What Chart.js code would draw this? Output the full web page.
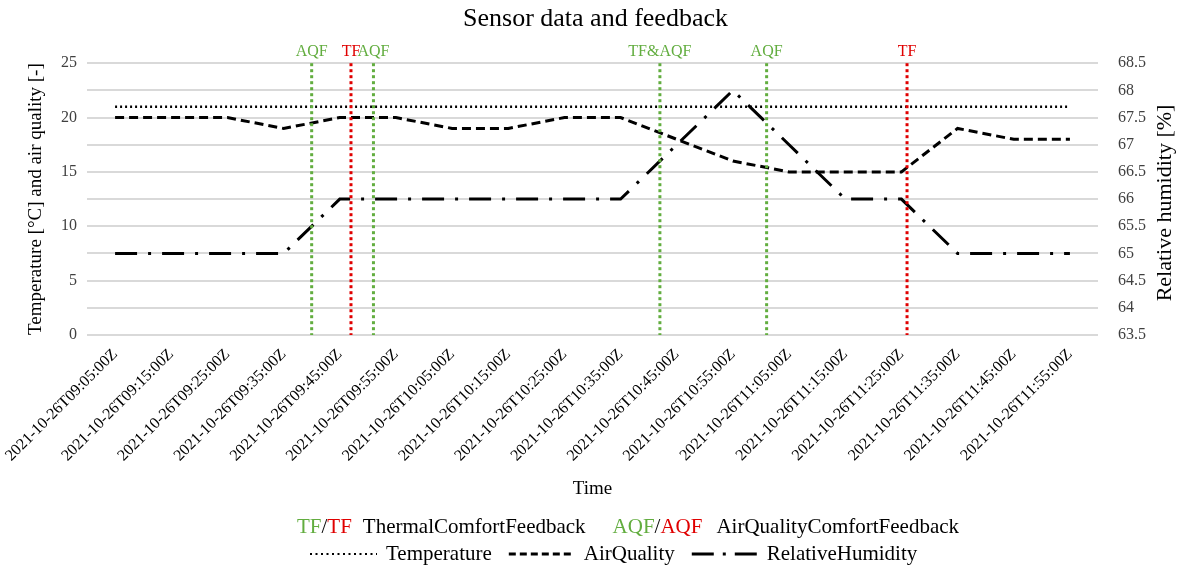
<!DOCTYPE html>
<html lang="en">
<head>
<meta charset="utf-8">
<title>Sensor data and feedback</title>
<script src="https://cdn.jsdelivr.net/npm/chart.js@4.4.1/dist/chart.umd.min.js"></script>
<style>
  html, body { margin: 0; padding: 0; background: #fff; }
  #contenedor { width: 1191px; height: 569px; position: relative; }
</style>
</head>
<body>
<div id="contenedor"><canvas id="grafico"></canvas></div>
<script>
const etiquetas = [
  '2021-10-26T09:05:00Z', '2021-10-26T09:15:00Z', '2021-10-26T09:25:00Z',
  '2021-10-26T09:35:00Z', '2021-10-26T09:45:00Z', '2021-10-26T09:55:00Z',
  '2021-10-26T10:05:00Z', '2021-10-26T10:15:00Z', '2021-10-26T10:25:00Z',
  '2021-10-26T10:35:00Z', '2021-10-26T10:45:00Z', '2021-10-26T10:55:00Z',
  '2021-10-26T11:05:00Z', '2021-10-26T11:15:00Z', '2021-10-26T11:25:00Z',
  '2021-10-26T11:35:00Z', '2021-10-26T11:45:00Z', '2021-10-26T11:55:00Z'
];
const temperatura = [21, 21, 21, 21, 21, 21, 21, 21, 21, 21, 21, 21, 21, 21, 21, 21, 21, 21];
const calidadAire = [20, 20, 20, 19, 20, 20, 19, 19, 20, 20, 18, 16, 15, 15, 15, 19, 18, 18];
const humedad = [65, 65, 65, 65, 66, 66, 66, 66, 66, 66, 67, 68, 67, 66, 66, 65, 65, 65];

// momentos en que llegó feedback de los usuarios
const feedbackHoras = ['09:40', '09:47', '09:51', '10:42', '11:01', '11:26'];
const feedbackTextos = ['AQF', 'TF', 'AQF', 'TF&AQF', 'AQF', 'TF'];
const feedbackSentido = ['positivo', 'negativo', 'positivo', 'positivo', 'positivo', 'negativo'];

const VERDE = '#62ad3f';
const ROJO = '#e00000';
const SERIF = "'Liberation Serif', 'Times New Roman', serif";

// convierte "hh:mm" a posición fraccionaria sobre el eje de categorías
const horaAIndice = (hora) => {
  const [h, m] = hora.split(':').map(Number);
  const inicio = 9 * 60 + 5;
  return (h * 60 + m - inicio) / 10;
};

const lineasFeedback = {
  id: 'lineasFeedback',
  afterDatasetsDraw(chart) {
    const { ctx, chartArea, scales } = chart;
    ctx.save();
    feedbackHoras.forEach((hora, i) => {
      const x = scales.x.getPixelForValue(horaAIndice(hora));
      const color = feedbackSentido[i] === 'positivo' ? VERDE : ROJO;
      ctx.strokeStyle = color;
      ctx.lineWidth = 3;
      ctx.setLineDash([3, 3]);
      ctx.beginPath();
      ctx.moveTo(x, chartArea.top);
      ctx.lineTo(x, chartArea.bottom);
      ctx.stroke();
      ctx.setLineDash([]);
      ctx.fillStyle = color;
      ctx.font = `16px ${SERIF}`;
      ctx.textAlign = 'center';
      ctx.textBaseline = 'alphabetic';
      ctx.fillText(feedbackTextos[i], x, chartArea.top - 7);
    });
    ctx.restore();
  }
};

// título del eje derecho, leído de abajo hacia arriba como en Excel
const tituloDerecho = {
  id: 'tituloDerecho',
  afterDraw(chart) {
    const { ctx } = chart;
    ctx.save();
    ctx.translate(1165, 203);
    ctx.rotate(-Math.PI / 2);
    ctx.font = `22px ${SERIF}`;
    ctx.fillStyle = '#000';
    ctx.textAlign = 'center';
    ctx.textBaseline = 'middle';
    ctx.fillText('Relative humidity [%]', 0, 0);
    ctx.restore();
  }
};

const leyenda = {
  id: 'leyenda',
  afterDraw(chart) {
    const { ctx } = chart;
    ctx.save();
    ctx.font = `21px ${SERIF}`;
    ctx.textBaseline = 'middle';
    ctx.textAlign = 'left';

    const fila1 = [
      { t: 'TF', c: VERDE }, { t: '/', c: '#000' }, { t: 'TF', c: ROJO }, { g: 11 },
      { t: 'ThermalComfortFeedback', c: '#000' }, { g: 27 },
      { t: 'AQF', c: VERDE }, { t: '/', c: '#000' }, { t: 'AQF', c: ROJO }, { g: 14 },
      { t: 'AirQualityComfortFeedback', c: '#000' }
    ];
    const fila2 = [
      { l: 67, dash: [2, 3.5], w: 2 }, { g: 9 }, { t: 'Temperature', c: '#000' }, { g: 17 },
      { l: 63, dash: [7, 4], w: 3 }, { g: 12 }, { t: 'AirQuality', c: '#000' }, { g: 17 },
      { l: 65, dash: [22, 9, 3, 9, 22], w: 3 }, { g: 10 }, { t: 'RelativeHumidity', c: '#000' }
    ];

    const dibujarFila = (fila, xInicio, y) => {
      let x = xInicio;
      fila.forEach(it => {
        if (it.t) {
          ctx.fillStyle = it.c;
          ctx.fillText(it.t, x, y);
          x += ctx.measureText(it.t).width;
        } else if (it.l) {
          ctx.strokeStyle = '#000';
          ctx.lineWidth = it.w;
          ctx.setLineDash(it.dash);
          ctx.beginPath();
          ctx.moveTo(x, y);
          ctx.lineTo(x + it.l, y);
          ctx.stroke();
          ctx.setLineDash([]);
          x += it.l;
        } else {
          x += it.g;
        }
      });
    };
    dibujarFila(fila1, 297, 527);
    dibujarFila(fila2, 310, 554);
    ctx.restore();
  }
};

const ctx = document.getElementById('grafico').getContext('2d');

const data = {
  labels: etiquetas,
  datasets: [
    {
      label: 'Temperature',
      data: temperatura,
      yAxisID: 'y',
      borderColor: '#000',
      borderWidth: 2.5,
      borderDash: [2, 3],
      pointRadius: 0,
      fill: false
    },
    {
      label: 'AirQuality',
      data: calidadAire,
      yAxisID: 'y',
      borderColor: '#000',
      borderWidth: 3,
      borderDash: [9, 5],
      pointRadius: 0,
      fill: false
    },
    {
      label: 'RelativeHumidity',
      data: humedad,
      yAxisID: 'y1',
      borderColor: '#000',
      borderWidth: 3,
      borderDash: [22, 11, 3, 11],
      pointRadius: 0,
      fill: false
    }
  ]
};

const config = {
  type: 'line',
  data,
  options: {
    responsive: true,
    maintainAspectRatio: false,
    animation: false,
    layout: { padding: { left: 0, right: 0, top: 0, bottom: 62 } },
    plugins: {
      legend: { display: false },
      tooltip: { enabled: false },
      title: {
        display: true,
        text: 'Sensor data and feedback',
        color: '#000',
        font: { family: SERIF, size: 26, weight: 'normal' },
        padding: { top: 4, bottom: 28 }
      }
    },
    scales: {
      x: {
        type: 'category',
        offset: true,
        grid: { display: false, drawTicks: false },
        border: { display: false },
        ticks: {
          autoSkip: false,
          maxRotation: 45,
          minRotation: 45,
          padding: 10,
          color: '#000',
          font: { family: SERIF, size: 16 }
        },
        title: {
          display: true,
          text: 'Time',
          color: '#000',
          font: { family: SERIF, size: 19 },
          padding: { top: 7, bottom: 7 }
        },
        afterFit: (escala) => {
          escala.height = 172;
          // que las etiquetas giradas no empujen el área del gráfico
          escala.paddingLeft = 0;
          escala.paddingRight = 0;
        }
      },
      y: {
        position: 'left',
        min: 0,
        max: 25,
        grid: { display: false, drawTicks: false },
        border: { display: false },
        ticks: {
          stepSize: 5,
          padding: 10,
          color: '#404040',
          font: { family: SERIF, size: 16 }
        },
        title: {
          display: true,
          text: 'Temperature [°C] and air quality [-]',
          color: '#000',
          font: { family: SERIF, size: 19 },
          padding: { top: 25, bottom: 0 }
        },
        afterFit: (escala) => { escala.width = 87; }
      },
      y1: {
        position: 'right',
        min: 63.5,
        max: 68.5,
        grid: { color: '#d9d9d9', lineWidth: 2, drawTicks: false },
        border: { display: false },
        ticks: {
          stepSize: 0.5,
          padding: 20,
          color: '#404040',
          font: { family: SERIF, size: 16 },
          callback: (valor) => String(valor)
        },
        title: { display: false },
        afterFit: (escala) => { escala.width = 93; }
      }
    }
  },
  plugins: [lineasFeedback, tituloDerecho, leyenda]
};

new Chart(ctx, config);
</script>
</body>
</html>
